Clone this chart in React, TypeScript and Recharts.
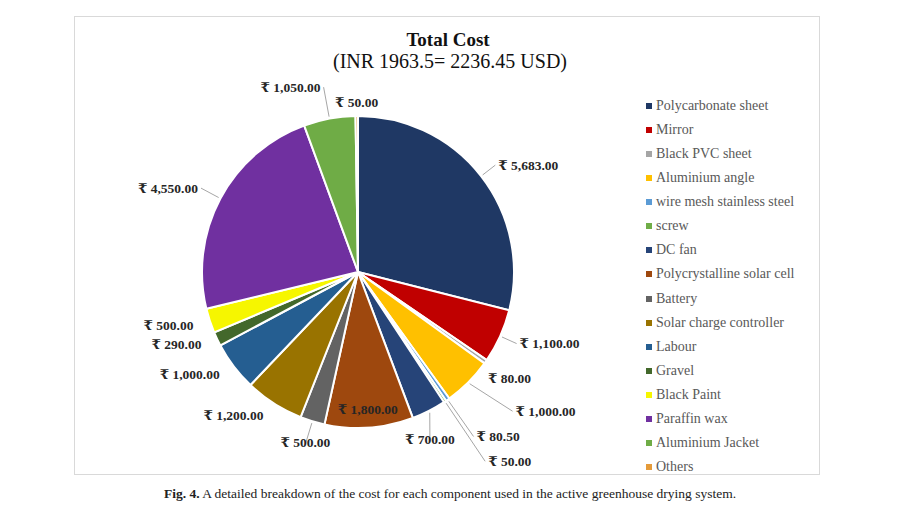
import { PieChart, Pie, Cell, Legend } from "recharts";

const items = [
  "Polycarbonate sheet",
  "Mirror",
  "Black PVC sheet",
  "Aluminium angle",
  "wire mesh stainless steel",
  "screw",
  "DC fan",
  "Polycrystalline solar cell",
  "Battery",
  "Solar charge controller",
  "Labour",
  "Gravel",
  "Black Paint",
  "Paraffin wax",
  "Aluminium Jacket",
  "Others",
];

const costs = [5683, 1100, 80, 1000, 80.5, 50, 700, 1800, 500, 1200, 1000, 290, 500, 4550, 1050, 50];

const colors = [
  "#1f3864", "#c00000", "#a5a5a5", "#ffc000", "#5b9bd5", "#70ad47", "#264478", "#9e480e",
  "#636363", "#997300", "#255e91", "#43682b", "#f6f600", "#7030a0", "#6fac46", "#e59b3a",
];

// label placement: distance past the rim, clockwise turn (deg), text anchor
const labelGap = [18, 18, 10, 52, 45, 72, 28, -18, 24, 14, 14, 14, 14, 22, 32, 12];
const labelTurn = [0, 0, 5, -3, 0, 0, 4, 0, 0, 0, 0, 0, 0, 0, 0, 0];
const labelAnchor = [
  "start", "start", "start", "start", "start", "start", "middle", "middle",
  "middle", "end", "end", "end", "end", "end", "end", "middle",
];

const data = items.map((name, i) => ({ name, cost: costs[i] }));

const RAD = Math.PI / 180;
const serif = '"Liberation Serif", "DejaVu Serif", serif';

const fmt = (v: number) =>
  "₹ " + v.toLocaleString("en-US", { minimumFractionDigits: 2, maximumFractionDigits: 2 });

const renderLabel = (props: any) => {
  const { cx, cy, midAngle, outerRadius, index, value } = props;
  const gap = labelGap[index];
  const ang = (midAngle - labelTurn[index]) * RAD;
  const r = outerRadius + gap;
  const x = cx + r * Math.cos(-ang);
  const y = cy + r * Math.sin(-ang);
  const anchor = labelAnchor[index] as "start" | "middle" | "end";
  const tx = anchor === "start" ? x + 3 : anchor === "end" ? x - 3 : x;
  const ty = anchor === "middle" && gap > 0 ? y - 2 : y;
  const mid = midAngle * RAD;
  const x0 = cx + (outerRadius + 2) * Math.cos(-mid);
  const y0 = cy + (outerRadius + 2) * Math.sin(-mid);
  return (
    <g key={`lbl-${index}`}>
      {gap > 15 && <line x1={x0} y1={y0} x2={x} y2={y} stroke="#a6a6a6" strokeWidth={1} />}
      <text
        x={tx}
        y={ty}
        textAnchor={anchor}
        dominantBaseline="central"
        fontFamily={serif}
        fontWeight="bold"
        fontSize={13.5}
        fill="#262626"
      >
        {fmt(value)}
      </text>
    </g>
  );
};

const renderLegend = () => (
  <div style={{ fontFamily: serif, fontSize: 14, color: "#595959" }}>
    {items.map((name, i) => (
      <div key={name} style={{ height: 24.07, display: "flex", alignItems: "center" }}>
        <span
          style={{
            display: "inline-block",
            width: 6,
            height: 6,
            background: colors[i],
            marginRight: 4,
          }}
        />
        <span>{name}</span>
      </div>
    ))}
  </div>
);

export default function App() {
  return (
    <div
      style={{
        position: "absolute",
        left: 0,
        top: 0,
        width: 900,
        height: 506,
        background: "#fff",
        fontFamily: serif,
      }}
    >
      <div
        style={{
          position: "absolute",
          left: 74,
          top: 16,
          width: 744,
          height: 457,
          border: "1px solid #d9d9d9",
        }}
      />
      <div
        style={{
          position: "absolute",
          left: 0,
          width: 896,
          top: 29,
          textAlign: "center",
          fontSize: 19,
          fontWeight: "bold",
          color: "#111",
        }}
      >
        Total Cost
      </div>
      <div
        style={{
          position: "absolute",
          left: 0,
          width: 900,
          top: 50,
          textAlign: "center",
          fontSize: 20,
          color: "#111",
        }}
      >
        (INR 1963.5= 2236.45 USD)
      </div>
      <div style={{ position: "absolute", left: 0, top: 0 }}>
        <PieChart width={900} height={506} margin={{ top: 0, right: 0, bottom: 0, left: 0 }}>
          <Pie
            data={data}
            dataKey="cost"
            nameKey="name"
            cx={358}
            cy={272}
            outerRadius={156}
            startAngle={90}
            endAngle={-270}
            stroke="#ffffff"
            strokeWidth={2}
            label={renderLabel}
            labelLine={false}
            isAnimationActive={false}
          >
            {data.map((d, i) => (
              <Cell key={d.name} fill={colors[i]} />
            ))}
          </Pie>
          <Legend
            layout="vertical"
            align="right"
            verticalAlign="top"
            content={renderLegend}
            wrapperStyle={{ position: "absolute", left: 646, top: 94, width: 190 }}
          />
        </PieChart>
      </div>
      <div
        style={{
          position: "absolute",
          left: 0,
          width: 900,
          top: 486,
          textAlign: "center",
          fontSize: 13.5,
          color: "#222",
        }}
      >
        <b>Fig. 4.</b> A detailed breakdown of the cost for each component used in the active greenhouse drying system.
      </div>
    </div>
  );
}
